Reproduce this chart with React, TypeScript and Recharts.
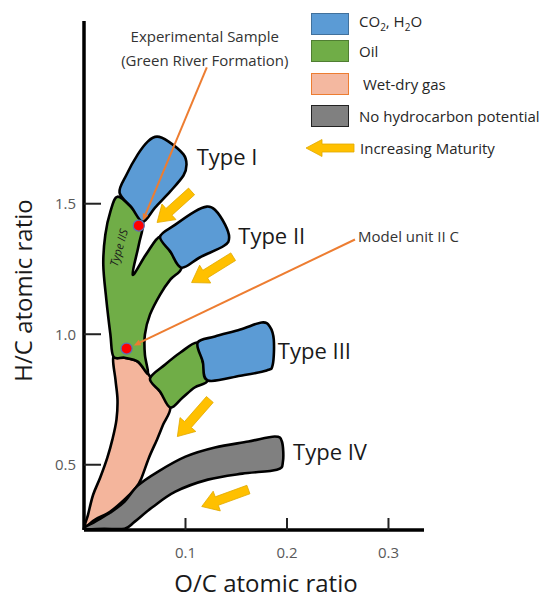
import React from 'react'
import { ScatterChart, Scatter, XAxis, YAxis } from 'recharts'

type Pt = [number, number]

// outlines of the maturation fields, in (O/C, H/C)
const typeIBlue: Pt[] = [
  [0.035, 1.543], [0.042, 1.612], [0.053, 1.689], [0.063, 1.739], [0.072, 1.757], [0.083, 1.739],
  [0.098, 1.689], [0.101, 1.65], [0.098, 1.608], [0.085, 1.547], [0.07, 1.485], [0.058, 1.431], [0.047, 1.485],
]
const typeIIBlue: Pt[] = [
  [0.075, 1.374], [0.09, 1.42], [0.109, 1.47], [0.121, 1.489], [0.129, 1.477], [0.139, 1.42],
  [0.143, 1.37], [0.138, 1.339], [0.114, 1.294], [0.096, 1.255], [0.085, 1.317],
]
const typeIIIBlue: Pt[] = [
  [0.112, 0.968], [0.129, 0.991], [0.154, 1.018], [0.175, 1.045], [0.183, 1.03], [0.187, 0.979],
  [0.186, 0.884], [0.18, 0.861], [0.154, 0.841], [0.122, 0.823], [0.117, 0.895],
]
const oilStem: Pt[] = [
  [0.033, 1.527], [0.047, 1.485], [0.058, 1.431], [0.054, 1.343], [0.048, 1.228], [0.061, 1.305],
  [0.075, 1.374], [0.085, 1.317], [0.096, 1.255], [0.085, 1.209], [0.075, 1.152], [0.065, 1.075],
  [0.06, 0.999], [0.06, 0.922], [0.063, 0.849], [0.053, 0.895], [0.04, 0.91], [0.029, 0.914],
  [0.026, 0.999], [0.022, 1.133], [0.019, 1.267], [0.021, 1.381], [0.026, 1.47],
]
const oilTypeIII: Pt[] = [
  [0.065, 0.83], [0.08, 0.884], [0.095, 0.93], [0.112, 0.968], [0.117, 0.895], [0.122, 0.823],
  [0.109, 0.796], [0.097, 0.757], [0.085, 0.719], [0.075, 0.78],
]
const wetDryGas: Pt[] = [
  [0.029, 0.914], [0.04, 0.91], [0.053, 0.895], [0.063, 0.849], [0.075, 0.78], [0.085, 0.719],
  [0.078, 0.654], [0.072, 0.597], [0.064, 0.527], [0.056, 0.443], [0.051, 0.412], [0.04, 0.367],
  [0.026, 0.321], [0.011, 0.29], [0.001, 0.263], [0.004, 0.309], [0.009, 0.385], [0.016, 0.451],
  [0.023, 0.527], [0.028, 0.597], [0.032, 0.673], [0.033, 0.75], [0.031, 0.826],
]
const typeIVGray: Pt[] = [
  [0.0, 0.255], [0.011, 0.282], [0.026, 0.317], [0.04, 0.359], [0.053, 0.42], [0.073, 0.474],
  [0.1, 0.531], [0.129, 0.566], [0.162, 0.589], [0.188, 0.608], [0.195, 0.589], [0.196, 0.512],
  [0.19, 0.481], [0.156, 0.466], [0.122, 0.443], [0.09, 0.397], [0.067, 0.336], [0.05, 0.282],
  [0.04, 0.255], [0.02, 0.255],
]

// maturity arrows: [tail, tip]
const maturityArrows: Pt[][] = [
  [[0.106, 1.547], [0.072, 1.428]],
  [[0.147, 1.297], [0.106, 1.198]],
  [[0.124, 0.75], [0.092, 0.608]],
  [[0.162, 0.405], [0.116, 0.34]],
]

const samples: Pt[] = [[0.054, 1.416], [0.042, 0.945]]

// callout lines: [from text, to sample]
const callouts: Pt[][] = [
  [[0.121, 2.022], [0.058, 1.435]],
  [[0.267, 1.363], [0.049, 0.957]],
]

const typeLabels = [
  { x: 0.111, y: 1.681, text: 'Type I' },
  { x: 0.152, y: 1.381, text: 'Type II' },
  { x: 0.191, y: 0.941, text: 'Type III' },
  { x: 0.206, y: 0.554, text: 'Type IV' },
]
const noteLabels = [
  { x: 0.119, y: 2.141, text: 'Experimental Sample' },
  { x: 0.119, y: 2.052, text: '(Green River Formation)' },
  { x: 0.27, y: 1.377, text: 'Model unit II C' },
]
const stemLabel = [{ x: 0.034, y: 1.332, text: 'Type IIS' }]

const xTicks = [0.1, 0.2, 0.3]
const yTicks = [0.5, 1.0, 1.5]

const legendItems = [
  { key: 'co2', fill: '#5b9bd5', stroke: '#41719c' },
  { key: 'oil', fill: '#70ad47', stroke: '#507e32' },
  { key: 'gas', fill: '#f4b8a0', stroke: '#ed7d31' },
  { key: 'none', fill: '#808080', stroke: '#222' },
]

const FONT = '"Open Sans", sans-serif'
const BLUE = '#5b9bd5'
const GREEN = '#70ad47'
const PINK = '#f4b59c'
const GRAY = '#808080'
const YELLOW = '#ffc000'
const ORANGE = '#ed7d31'

const rows = (pts: Pt[]) => pts.map(([x, y]) => ({ x, y }))

type XY = { x: number; y: number }

function closedPath(pts: XY[]) {
  const n = pts.length
  let d = `M${pts[0].x},${pts[0].y}`
  for (let i = 0; i < n; i++) {
    const p0 = pts[(i - 1 + n) % n]
    const p1 = pts[i]
    const p2 = pts[(i + 1) % n]
    const p3 = pts[(i + 2) % n]
    const c1x = p1.x + (p2.x - p0.x) / 6
    const c1y = p1.y + (p2.y - p0.y) / 6
    const c2x = p2.x - (p3.x - p1.x) / 6
    const c2y = p2.y - (p3.y - p1.y) / 6
    d += ` C${c1x},${c1y} ${c2x},${c2y} ${p2.x},${p2.y}`
  }
  return d + ' Z'
}

const region = (fill: string) => (props: any) => (
  <path d={closedPath(props.points)} fill={fill} stroke="#000" strokeWidth={2.6} strokeLinejoin="round" />
)

function blockArrow(props: any) {
  const [t, h] = props.points as XY[]
  const len = Math.hypot(h.x - t.x, h.y - t.y)
  const ux = (h.x - t.x) / len
  const uy = (h.y - t.y) / len
  const nx = -uy
  const ny = ux
  const hl = 16
  const sw = 4.5
  const hw = 10.5
  const bx = h.x - ux * hl
  const by = h.y - uy * hl
  const p = [
    [t.x + nx * sw, t.y + ny * sw],
    [bx + nx * sw, by + ny * sw],
    [bx + nx * hw, by + ny * hw],
    [h.x, h.y],
    [bx - nx * hw, by - ny * hw],
    [bx - nx * sw, by - ny * sw],
    [t.x - nx * sw, t.y - ny * sw],
  ]
  return <polygon points={p.map((q) => q.join(',')).join(' ')} fill={YELLOW} stroke="#e0a800" strokeWidth={0.8} />
}

function calloutLine(props: any) {
  const [a, b] = props.points as XY[]
  const ang = Math.atan2(b.y - a.y, b.x - a.x)
  const s = 7
  const w = 3
  const bx = b.x - Math.cos(ang) * s
  const by = b.y - Math.sin(ang) * s
  const head = [
    [b.x, b.y],
    [bx - Math.sin(ang) * w, by + Math.cos(ang) * w],
    [bx + Math.sin(ang) * w, by - Math.cos(ang) * w],
  ]
  return (
    <g>
      <line x1={a.x} y1={a.y} x2={bx} y2={by} stroke={ORANGE} strokeWidth={2} />
      <polygon points={head.map((q) => q.join(',')).join(' ')} fill={ORANGE} />
    </g>
  )
}

const noDot = () => <g />

const typeText = (p: any) => (
  <text x={p.cx} y={p.cy} dominantBaseline="central" fontFamily={FONT} fontSize={22} fill="#1a1a1a">
    {p.payload.text}
  </text>
)
const noteText = (p: any) => (
  <text
    x={p.cx}
    y={p.cy}
    dominantBaseline="central"
    textAnchor={p.payload.text.startsWith('Model') ? 'start' : 'middle'}
    fontFamily={FONT}
    fontSize={15}
    fill="#333"
  >
    {p.payload.text}
  </text>
)
const stemText = (p: any) => (
  <text
    x={p.cx}
    y={p.cy}
    transform={`rotate(-74 ${p.cx} ${p.cy})`}
    textAnchor="middle"
    dominantBaseline="central"
    fontFamily={FONT}
    fontStyle="italic"
    fontSize={11.5}
    fill="#1a1a1a"
  >
    {p.payload.text}
  </text>
)

function LegendBox() {
  const labels = [
    <>CO<sub style={{ fontSize: 10 }}>2</sub>, H<sub style={{ fontSize: 10 }}>2</sub>O</>,
    <>Oil</>,
    <>&nbsp;Wet-dry gas</>,
    <>No hydrocarbon potential</>,
  ]
  const tops = [10, 40, 73, 105]
  return (
    <div style={{ position: 'absolute', left: 0, top: 0, fontFamily: FONT, fontSize: 15, color: '#262626' }}>
      {legendItems.map((it, i) => (
        <div key={it.key} style={{ position: 'absolute', left: 311, top: tops[i], display: 'flex', alignItems: 'center', whiteSpace: 'nowrap' }}>
          <div style={{ width: 36, height: 20, background: it.fill, border: `1.5px solid ${it.stroke}` }} />
          <span style={{ marginLeft: 10, lineHeight: '22px' }}>{labels[i]}</span>
        </div>
      ))}
      <div style={{ position: 'absolute', left: 304, top: 138, display: 'flex', alignItems: 'center', whiteSpace: 'nowrap' }}>
        <svg width={52} height={20}>
          <polygon points="2,10 18,1.5 18,6 50,6 50,14 18,14 18,18.5" fill={YELLOW} stroke="#e0a800" strokeWidth={0.8} />
        </svg>
        <span style={{ marginLeft: 4 }}>Increasing Maturity</span>
      </div>
    </div>
  )
}

export default function App() {
  const axisTick = { fill: '#595959', fontSize: 15, fontFamily: FONT }
  const titleStyle = { fontSize: 24, fontFamily: FONT, fill: '#1a1a1a' }
  return (
    <div style={{ position: 'absolute', left: 0, top: 0, width: 552, height: 600, background: '#fff' }}>
      <ScatterChart width={552} height={600} margin={{ top: 21, right: 128, bottom: 10, left: 24 }}>
        <XAxis
          type="number"
          dataKey="x"
          domain={[0, 0.335]}
          ticks={xTicks}
          tickFormatter={(v: number) => v.toFixed(1)}
          height={60}
          tickSize={-12}
          tickMargin={29}
          tick={axisTick}
          tickLine={{ stroke: '#222', strokeWidth: 2 }}
          axisLine={{ stroke: '#000', strokeWidth: 3.5 }}
          label={{ value: 'O/C atomic ratio', position: 'center', dx: 12, dy: 23, style: titleStyle }}
        />
        <YAxis
          type="number"
          dataKey="y"
          domain={[0.25, 2.2]}
          ticks={yTicks}
          tickFormatter={(v: number) => v.toFixed(1)}
          width={60}
          tickSize={-17}
          tickMargin={25}
          tick={axisTick}
          tickLine={{ stroke: '#222', strokeWidth: 2 }}
          axisLine={{ stroke: '#000', strokeWidth: 3.5 }}
          label={{ value: 'H/C atomic ratio', angle: -90, position: 'center', dx: -31, dy: 15, style: titleStyle }}
        />
        <Scatter data={rows(wetDryGas)} line={region(PINK)} shape={noDot} isAnimationActive={false} />
        <Scatter data={rows(typeIVGray)} line={region(GRAY)} shape={noDot} isAnimationActive={false} />
        <Scatter data={rows(oilStem)} line={region(GREEN)} shape={noDot} isAnimationActive={false} />
        <Scatter data={rows(oilTypeIII)} line={region(GREEN)} shape={noDot} isAnimationActive={false} />
        <Scatter data={rows(typeIBlue)} line={region(BLUE)} shape={noDot} isAnimationActive={false} />
        <Scatter data={rows(typeIIBlue)} line={region(BLUE)} shape={noDot} isAnimationActive={false} />
        <Scatter data={rows(typeIIIBlue)} line={region(BLUE)} shape={noDot} isAnimationActive={false} />
        {maturityArrows.map((a, i) => (
          <Scatter key={`arrow-${i}`} data={rows(a)} line={blockArrow} shape={noDot} isAnimationActive={false} />
        ))}
        {callouts.map((c, i) => (
          <Scatter key={`callout-${i}`} data={rows(c)} line={calloutLine} shape={noDot} isAnimationActive={false} />
        ))}
        <Scatter
          data={rows(samples)}
          shape={(p: any) => <circle cx={p.cx} cy={p.cy} r={5.5} fill="#ff0000" stroke="#5b6fb5" strokeWidth={1.2} />}
          isAnimationActive={false}
        />
        <Scatter data={typeLabels} shape={typeText} isAnimationActive={false} />
        <Scatter data={noteLabels} shape={noteText} isAnimationActive={false} />
        <Scatter data={stemLabel} shape={stemText} isAnimationActive={false} />
      </ScatterChart>
      <LegendBox />
    </div>
  )
}
